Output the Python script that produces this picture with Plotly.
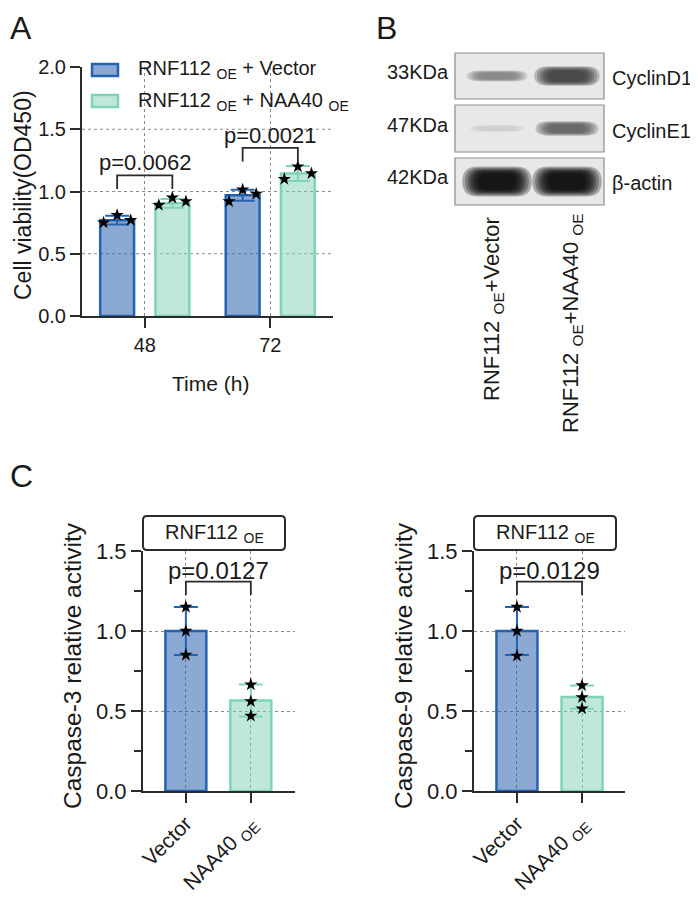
import plotly.graph_objects as go

# ---------------- data ----------------
time_labels = ["48", "72"]
vec_mean = [0.77, 0.97]
vec_sd = [0.035, 0.045]
naa_mean = [0.905, 1.145]
naa_sd = [0.035, 0.06]
vec_pts = [[0.75, 0.81, 0.77], [0.92, 1.015, 0.98]]
naa_pts = [[0.89, 0.95, 0.92], [1.10, 1.20, 1.145]]
p_A = ["p=0.0062", "p=0.0021"]
bracket_A = [1.02, 1.24]

c_groups = ["Vector", "NAA40 <sub>OE</sub>"]
casp3_mean = [1.0, 0.565]
casp3_sd = [0.15, 0.10]
casp3_pts = [[1.15, 1.0, 0.85], [0.665, 0.56, 0.47]]
casp9_mean = [1.0, 0.587]
casp9_sd = [0.15, 0.073]
casp9_pts = [[1.15, 1.0, 0.845], [0.66, 0.585, 0.515]]
p_C = ["p=0.0127", "p=0.0129"]
bracket_C = [1.225, 1.225]

blot_proteins = ["CyclinD1", "CyclinE1", "β-actin"]
blot_kda = ["33KDa", "47KDa", "42KDa"]
blot_lanes = ["RNF112 <sub>OE</sub>+Vector", "RNF112 <sub>OE</sub>+NAA40 <sub>OE</sub>"]
band_intensity = [[0.45, 0.75], [0.12, 0.6], [1.0, 1.0]]

legend_names = ["RNF112 <sub>OE</sub> + Vector", "RNF112 <sub>OE</sub> + NAA40 <sub>OE</sub>"]

# ---------------- style ----------------
W, H = 698, 898
OFF = 8  # page body margin
def px(x): return (x - OFF) / W
def py(y): return 1 - (y - OFF) / H

FONT = "Arial, 'Liberation Sans', Helvetica, sans-serif"
TXT = "#1a1a1a"
AX = "#2b2b2b"
GRID = "#8a8a8a"
VEC_LINE = "#2462b2"
VEC_FILL = "rgba(35,90,172,0.52)"
NAA_LINE = "#7fd3b8"
NAA_FILL = "rgba(127,209,182,0.5)"

def ann(x, y, text, size, xanchor="center", yanchor="middle", **kw):
    return dict(x=px(x), y=py(y), xref="paper", yref="paper", text=text, showarrow=False,
                xanchor=xanchor, yanchor=yanchor, font=dict(size=size, color=TXT, family=FONT), **kw)

fig = go.Figure()

# ---------------- panel A ----------------
shiftA = [-0.22, 0.22]
jitA = [-0.108, 0.0, 0.108]
for means, sds, pts, shift, fill, line in [
    (vec_mean, vec_sd, vec_pts, shiftA[0], VEC_FILL, VEC_LINE),
    (naa_mean, naa_sd, naa_pts, shiftA[1], NAA_FILL, NAA_LINE),
]:
    xs = [i + shift for i in range(len(means))]
    fig.add_trace(go.Bar(x=xs, y=means, width=0.27, xaxis="x", yaxis="y",
                         marker=dict(color=fill, line=dict(color=line, width=2.5)),
                         error_y=dict(type="data", array=sds, color=line, thickness=2, width=12),
                         showlegend=False))
    sx, sy = [], []
    for i, p in enumerate(pts):
        for k, v in enumerate(p):
            sx.append(i + shift + jitA[k]); sy.append(v)
    fig.add_trace(go.Scatter(x=sx, y=sy, mode="markers", xaxis="x", yaxis="y",
                             marker=dict(symbol="star", size=10, color="black"),
                             showlegend=False))

# ---------------- panel C ----------------
for means, sds, pts, xa, ya in [
    (casp3_mean, casp3_sd, casp3_pts, "x2", "y2"),
    (casp9_mean, casp9_sd, casp9_pts, "x3", "y3"),
]:
    xs = list(range(len(means)))
    fig.add_trace(go.Bar(x=xs, y=means, width=0.63, xaxis=xa, yaxis=ya,
                         marker=dict(color=[VEC_FILL, NAA_FILL],
                                     line=dict(color=[VEC_LINE, NAA_LINE], width=2.5)),
                         showlegend=False))
    for i in xs:
        fig.add_trace(go.Scatter(x=[i], y=[means[i]], mode="markers", xaxis=xa, yaxis=ya,
                                 marker=dict(size=1, color="rgba(0,0,0,0)"),
                                 error_y=dict(type="data", array=[sds[i]],
                                              color=[VEC_LINE, NAA_LINE][i], thickness=2, width=12),
                                 showlegend=False))
    sx, sy = [], []
    for i, p in enumerate(pts):
        for v in p:
            sx.append(i); sy.append(v)
    fig.add_trace(go.Scatter(x=sx, y=sy, mode="markers", xaxis=xa, yaxis=ya,
                             marker=dict(symbol="star", size=10, color="black"),
                             showlegend=False))

shapes = []
annotations = []

# horizontal grid for A
for v in [0.5, 1.0, 1.5]:
    shapes.append(dict(type="line", xref="x domain", yref="y", x0=0, x1=1, y0=v, y1=v,
                       line=dict(color=GRID, width=1.2, dash="dot"), layer="below"))

# brackets A
for i, yb in enumerate(bracket_A):
    x0, x1 = i + shiftA[0], i + shiftA[1]
    yt = yb + 0.11
    shapes.append(dict(type="path", xref="x", yref="y",
                       path=f"M{x0},{yb} L{x0},{yt} L{x1},{yt} L{x1},{yb}",
                       line=dict(color=AX, width=1.8)))
    annotations.append(dict(x=i, y=yt + 0.1, xref="x", yref="y", text=p_A[i], showarrow=False,
                            xanchor="center", yanchor="middle",
                            font=dict(size=22, color=TXT, family=FONT)))

# brackets C
for (xa, ya), yb, ptxt in zip([("x2", "y2"), ("x3", "y3")], bracket_C, p_C):
    yt = yb + 0.083
    shapes.append(dict(type="path", xref=xa, yref=ya,
                       path=f"M0,{yb} L0,{yt} L1,{yt} L1,{yb}",
                       line=dict(color=AX, width=1.8)))
    annotations.append(dict(x=0.5, y=yt + 0.07, xref=xa, yref=ya, text=ptxt, showarrow=False,
                            xanchor="center", yanchor="middle",
                            font=dict(size=24, color=TXT, family=FONT)))

# legend A (manual)
for k, (name, fill, line) in enumerate(zip(legend_names, [VEC_FILL, NAA_FILL], [VEC_LINE, NAA_LINE])):
    yc = 70 + 31 * k
    shapes.append(dict(type="rect", xref="paper", yref="paper",
                       x0=px(92), x1=px(118), y0=py(yc - 6), y1=py(yc + 6),
                       fillcolor=fill, line=dict(color=line, width=2.5)))
    annotations.append(ann(136, yc, name, 20, xanchor="left"))

# rounded rect helper (pixel coords -> paper)
def rrect(x0, y0, x1, y1, rx, ry=None):
    ry = rx if ry is None else ry
    P = lambda x, y: f"{px(x)},{py(y)}"
    return (f"M{P(x0 + rx, y0)} L{P(x1 - rx, y0)} Q{P(x1, y0)} {P(x1, y0 + ry)} "
            f"L{P(x1, y1 - ry)} Q{P(x1, y1)} {P(x1 - rx, y1)} L{P(x0 + rx, y1)} "
            f"Q{P(x0, y1)} {P(x0, y1 - ry)} L{P(x0, y0 + ry)} Q{P(x0, y0)} {P(x0 + rx, y0)} Z")

for xl, xr in [(143, 285), (474, 616)]:
    shapes.append(dict(type="path", xref="paper", yref="paper", path=rrect(xl, 516, xr, 550, 4),
                       line=dict(color=AX, width=2), fillcolor="white"))
    annotations.append(ann((xl + xr) / 2, 533, "RNF112 <sub>OE</sub>", 20))

# ---------------- panel B (western blot) ----------------
rows = [(53, 99), (105, 152), (158, 205)]
lane_x = [497, 567]
for r, (y0, y1) in enumerate(rows):
    shapes.append(dict(type="rect", xref="paper", yref="paper",
                       x0=px(455), x1=px(604), y0=py(y0), y1=py(y1),
                       fillcolor="#e8e8e8", line=dict(color="#8c8c8c", width=1.2)))
    yc = (y0 + y1) / 2
    for l, I in enumerate(band_intensity[r]):
        g = int(235 * (1 - I))
        col = f"rgb({g},{g},{g})"
        hw = 22 + 7 * I
        hh = 2.5 + 10 * I ** 2
        for sc in [1.2, 1.1, 1.0, 0.92, 0.84, 0.75, 0.65]:
            w, h = hw * sc, hh * sc
            shapes.append(dict(type="path", xref="paper", yref="paper",
                               path=rrect(lane_x[l] - w, yc - h, lane_x[l] + w, yc + h, w * 0.45, h),
                               fillcolor=col, opacity=0.28, line=dict(width=0)))
    annotations.append(ann(451, yc - 4, blot_kda[r], 20, xanchor="right"))
    annotations.append(ann(610, yc + 2, blot_proteins[r], 20, xanchor="left"))

for l, (xc, yt) in enumerate([(493, 215), (572, 211)]):
    annotations.append(ann(xc, yt, blot_lanes[l], 22, yanchor="top", textangle=-90))

# ---------------- titles / letters ----------------
annotations += [
    ann(23, 195, "Cell viability(OD450)", 23, textangle=-90),
    ann(211, 383, "Time (h)", 21),
    ann(72, 666, "Caspase-3 relative activity", 24.5, textangle=-90),
    ann(403, 666, "Caspase-9 relative activity", 24.5, textangle=-90),
]
for letter, x, y in [("A", 8, 0), ("B", 374, 0), ("C", 8, 456)]:
    annotations.append(ann(x, max(y, 8), letter, 32, xanchor="left", yanchor="top"))

axis_common = dict(showline=True, linecolor=AX, linewidth=2, ticks="outside", ticklen=10,
                   tickwidth=2, tickcolor=AX, zeroline=False, color=TXT, automargin=False)

fig.update_layout(
    width=W, height=H, margin=dict(l=0, r=0, t=0, b=0, autoexpand=False),
    paper_bgcolor="white", plot_bgcolor="white",
    font=dict(family=FONT, color=TXT),
    showlegend=False, barmode="overlay",
    xaxis=dict(domain=[px(82), px(333)], range=[-0.5, 1.5], tickvals=[0, 1], ticktext=time_labels,
               showgrid=True, gridcolor=GRID, griddash="dot", gridwidth=1.2,
               tickfont=dict(size=20), anchor="y", **axis_common),
    yaxis=dict(domain=[py(316), py(67)], range=[0, 2.0], dtick=0.5, tickformat=".1f",
               showgrid=False, tickfont=dict(size=20), anchor="x", **axis_common),
    xaxis2=dict(domain=[px(143), px(295)], range=[-0.66, 1.68], tickvals=[0, 1], ticktext=c_groups,
                tickangle=-45, showgrid=True, gridcolor=GRID, griddash="dot", gridwidth=1.2,
                tickfont=dict(size=21), anchor="y2", **axis_common),
    yaxis2=dict(domain=[py(791), py(551)], range=[0, 1.5], dtick=0.5, tickformat=".1f",
                showgrid=True, gridcolor=GRID, griddash="dot", gridwidth=1.2,
                minor=dict(dtick=0.25, ticks="outside", ticklen=7, tickwidth=2, tickcolor=AX, showgrid=False),
                tickfont=dict(size=22), anchor="x2", **axis_common),
    xaxis3=dict(domain=[px(474), px(625)], range=[-0.66, 1.66], tickvals=[0, 1], ticktext=c_groups,
                tickangle=-45, showgrid=True, gridcolor=GRID, griddash="dot", gridwidth=1.2,
                tickfont=dict(size=21), anchor="y3", **axis_common),
    yaxis3=dict(domain=[py(791), py(551)], range=[0, 1.5], dtick=0.5, tickformat=".1f",
                showgrid=True, gridcolor=GRID, griddash="dot", gridwidth=1.2,
                minor=dict(dtick=0.25, ticks="outside", ticklen=7, tickwidth=2, tickcolor=AX, showgrid=False),
                tickfont=dict(size=22), anchor="x3", **axis_common),
    shapes=shapes, annotations=annotations,
)

fig.write_html("out.html")
